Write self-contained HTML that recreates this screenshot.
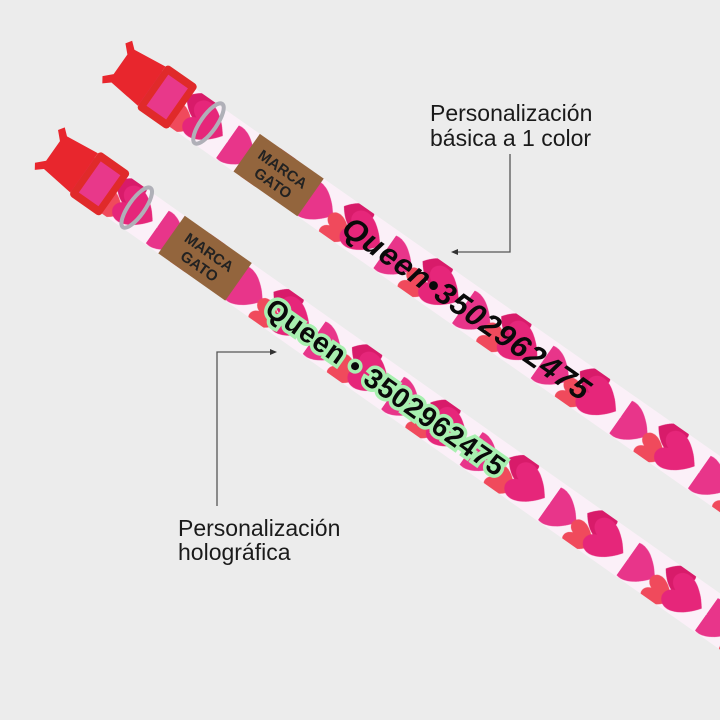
<!DOCTYPE html>
<html><head><meta charset="utf-8"><style>
html,body{margin:0;padding:0;background:#ececec;}
svg{display:block}
.lbl{font-family:"Liberation Sans",sans-serif;font-size:23px;fill:#1a1a1a}
</style></head><body>
<svg width="720" height="720" viewBox="0 0 720 720" xmlns="http://www.w3.org/2000/svg">
<defs>
<path id="h" d="M0,8 C-14,-2 -16,-14 -8,-17 C-4,-18 -1,-15 0,-12 C1,-15 4,-18 8,-17 C16,-14 14,-2 0,8 Z"/>
<pattern id="hp" patternUnits="userSpaceOnUse" width="96" height="48" x="0" y="-24">
<rect width="96" height="48" fill="#fbf0f8"/>
<use href="#h" transform="translate(20,26) rotate(-90) scale(1.6)" fill="#e8358a"/>
<use href="#h" transform="translate(46,12) rotate(90) scale(1.2)" fill="#d81b6a"/>
<use href="#h" transform="translate(50,36) rotate(-90) scale(1.2)" fill="#f04a5c"/>
<use href="#h" transform="translate(76,24) rotate(-90) scale(1.6)" fill="#e6267a"/>
</pattern>
</defs>

<g transform="translate(150,85) rotate(35)">
<rect x="0" y="-23" width="760" height="46" fill="url(#hp)"/>
<g transform="translate(22,0)">
<path d="M-55,-20 L-20,-24 L-20,24 L-55,20 L-62,26 L-66,20 L-58,12 L-58,-12 L-66,-20 L-62,-26 Z" fill="#e8262d"/>
<rect x="-20" y="-27" width="38" height="54" rx="4" fill="#e02a2a"/>
<rect x="-13" y="-19" width="24" height="38" fill="#e8388a"/>
</g>
<ellipse cx="70" cy="-2" rx="8" ry="24" fill="none" stroke="#b0b0b8" stroke-width="4"/>
<rect x="118" y="-23" width="78" height="46" fill="#93653d"/>
<text x="157" y="-2" text-anchor="middle" font-family="Liberation Sans,sans-serif" font-weight="bold" font-size="15" fill="#222">MARCA</text>
<text x="157" y="15" text-anchor="middle" font-family="Liberation Sans,sans-serif" font-weight="bold" font-size="15" fill="#222">GATO</text>
<text x="240" y="12" font-family="Liberation Sans,sans-serif" font-weight="bold" font-style="italic" font-size="31" fill="#0a0a0a" letter-spacing="1">Queen•3502962475</text>
</g>

<g transform="translate(80,170) rotate(35.2)">
<rect x="0" y="-23" width="800" height="46" fill="url(#hp)"/>
<g transform="translate(25,0)">
<path d="M-55,-20 L-20,-24 L-20,24 L-55,20 L-62,26 L-66,20 L-58,12 L-58,-12 L-66,-20 L-62,-26 Z" fill="#e8262d"/>
<rect x="-20" y="-27" width="38" height="54" rx="4" fill="#e02a2a"/>
<rect x="-13" y="-19" width="24" height="38" fill="#e8388a"/>
</g>
<ellipse cx="68" cy="-2" rx="8" ry="24" fill="none" stroke="#b0b0b8" stroke-width="4"/>
<rect x="112" y="-23" width="82" height="46" fill="#93653d"/>
<text x="153" y="-2" text-anchor="middle" font-family="Liberation Sans,sans-serif" font-weight="bold" font-size="15" fill="#222">MARCA</text>
<text x="153" y="15" text-anchor="middle" font-family="Liberation Sans,sans-serif" font-weight="bold" font-size="15" fill="#222">GATO</text>
<text x="232" y="11" font-family="Liberation Sans,sans-serif" font-weight="bold" font-size="28" fill="#0a0a0a" stroke="#a8f0b0" stroke-width="7" paint-order="stroke" letter-spacing="1">Queen • 3502962475</text>
</g>

<text class="lbl" x="430" y="121">Personalización</text>
<text class="lbl" x="430" y="146">básica a 1 color</text>
<polyline points="510,154 510,252 456,252" fill="none" stroke="#555" stroke-width="1.3"/>
<path d="M451,252 L458,249 L458,255 Z" fill="#333"/>

<text class="lbl" x="178" y="536">Personalización</text>
<text class="lbl" x="178" y="560">holográfica</text>
<polyline points="217,506 217,352 272,352" fill="none" stroke="#555" stroke-width="1.3"/>
<path d="M277,352 L270,349 L270,355 Z" fill="#333"/>
</svg>
</body></html>
